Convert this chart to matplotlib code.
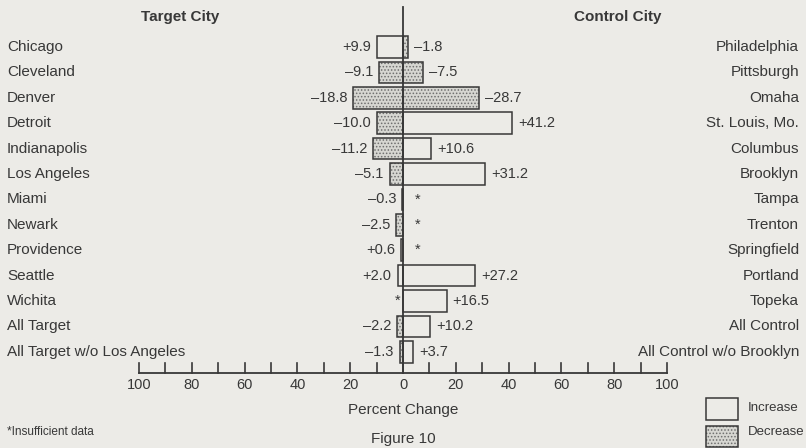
import numpy as np
import matplotlib.pyplot as plt
from matplotlib.patches import Rectangle

plt.rcParams['font.family'] = ['Liberation Sans', 'DejaVu Sans']
plt.rcParams['hatch.linewidth'] = 0.7

# target cities (left side) and their percent change
target_cities = ['Chicago', 'Cleveland', 'Denver', 'Detroit', 'Indianapolis',
                 'Los Angeles', 'Miami', 'Newark', 'Providence', 'Seattle',
                 'Wichita', 'All Target', 'All Target w/o Los Angeles']
target_change = [9.9, -9.1, -18.8, -10.0, -11.2, -5.1, -0.3, -2.5, 0.6, 2.0,
                 None, -2.2, -1.3]

# control cities (right side)
control_cities = ['Philadelphia', 'Pittsburgh', 'Omaha', 'St. Louis, Mo.',
                  'Columbus', 'Brooklyn', 'Tampa', 'Trenton', 'Springfield',
                  'Portland', 'Topeka', 'All Control',
                  'All Control w/o Brooklyn']
control_change = [-1.8, -7.5, -28.7, 41.2, 10.6, 31.2, None, None, None, 27.2,
                  16.5, 10.2, 3.7]

tick_values = np.arange(-100, 101, 10)
tick_labels = [100, 80, 60, 40, 20, 0, 20, 40, 60, 80, 100]

bg = '#ecebe7'
ink = '#383838'
dots_face = '#d6d6d1'
dots_col = '#6e6e6e'

fig = plt.figure(figsize=(8.06, 4.48), dpi=100, facecolor=bg)
ax = fig.add_axes([0, 0, 1, 1])
ax.set_facecolor(bg)
ax.set_xlim(-152.65, 152.65)
ax.set_ylim(15.79, -1.85)
ax.axis('off')

bar_h = 0.85


def fmt(v):
    if v is None:
        return '*'
    return ('+' if v > 0 else '\u2013') + f'{abs(v):.1f}'


def draw_bar(y, v, side):
    if v is None:
        return 0
    w = abs(v) * side
    if v < 0:
        ax.barh(y, w, height=bar_h, left=0, color=dots_face, hatch='.....',
                edgecolor=dots_col, linewidth=0, zorder=2)
    else:
        ax.barh(y, w, height=bar_h, left=0, color=bg, linewidth=0, zorder=2)
    ax.barh(y, w, height=bar_h, left=0, fill=False, edgecolor=ink,
            linewidth=1.1, zorder=3)
    return w


for i in range(len(target_cities)):
    wl = draw_bar(i, target_change[i], -1)
    wr = draw_bar(i, control_change[i], 1)
    tl = fmt(target_change[i])
    tr = fmt(control_change[i])
    gl = 1.0 if target_change[i] is None else 2.3
    gr = 4.3 if control_change[i] is None else 2.3
    ax.text(wl - gl, i, tl, ha='right', va='center', fontsize=10.5, color=ink)
    ax.text(wr + gr, i, tr, ha='left', va='center', fontsize=10.5, color=ink)
    ax.text(-150, i, target_cities[i], ha='left', va='center', fontsize=11,
            color=ink)
    ax.text(150, i, control_cities[i], ha='right', va='center', fontsize=11,
            color=ink)

# center line and axis
ax.plot([0, 0], [-1.57, 12.83], color=ink, lw=1.3, zorder=4)
ax.plot([-100, 100], [12.83, 12.83], color=ink, lw=1.3, zorder=4)
for t in tick_values:
    ax.plot([t, t], [12.83, 12.43], color=ink, lw=1.2)
for t, lab in zip(np.arange(-100, 101, 20), tick_labels):
    ax.text(t, 13.3, str(lab), ha='center', va='center', fontsize=10.5,
            color=ink)

ax.text(-84.5, -1.18, 'Target City', ha='center', va='center', fontsize=11,
        fontweight='bold', color=ink)
ax.text(81.4, -1.18, 'Control City', ha='center', va='center', fontsize=11,
        fontweight='bold', color=ink)

ax.text(0, 14.3, 'Percent Change', ha='center', va='center', fontsize=11,
        color=ink)
ax.text(-150, 15.16, '*Insufficient data', ha='left', va='center',
        fontsize=8.5, color=ink)
ax.text(0, 15.72, 'Figure 10', ha='center', va='bottom', fontsize=11,
        color=ink)

# legend
ax.add_patch(Rectangle((114.8, 13.82), 12.1, 0.87, facecolor=bg,
                       edgecolor=ink, lw=1.1))
ax.add_patch(Rectangle((114.8, 14.92), 12.1, 0.84, facecolor=dots_face,
                       hatch='.....', edgecolor=dots_col, lw=0))
ax.add_patch(Rectangle((114.8, 14.92), 12.1, 0.84, fill=False,
                       edgecolor=ink, lw=1.1))
ax.text(130.7, 14.21, 'Increase', ha='left', va='center', fontsize=9.5,
        color=ink)
ax.text(130.7, 15.16, 'Decrease', ha='left', va='center', fontsize=9.5,
        color=ink)

fig.savefig('out.png', dpi=100, facecolor=bg)
